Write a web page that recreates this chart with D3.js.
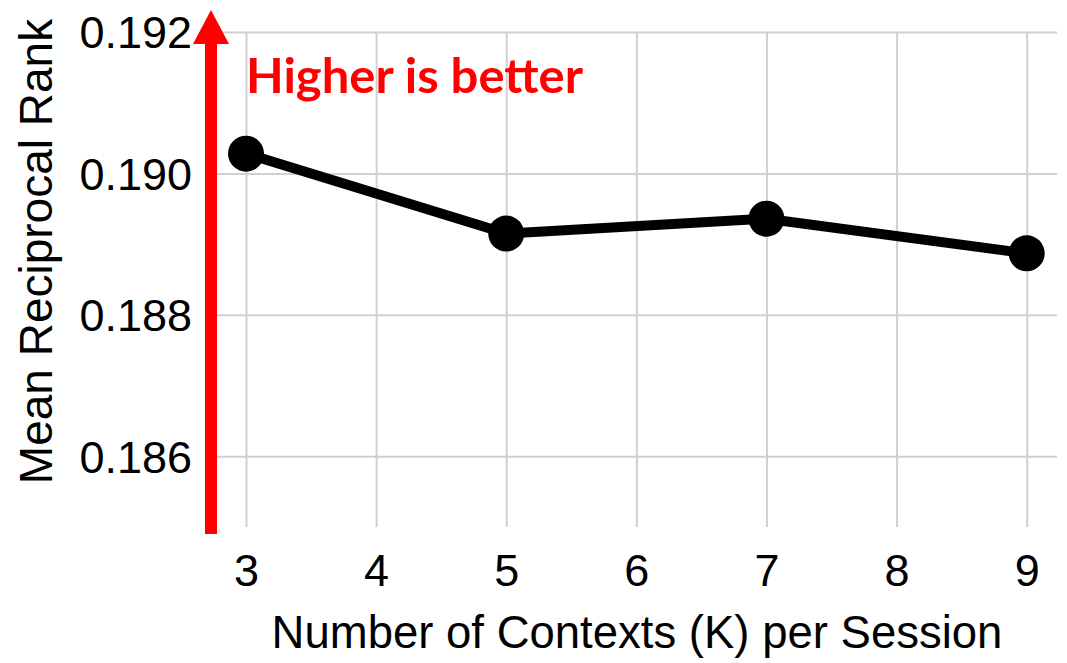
<!DOCTYPE html>
<html>
<head>
<meta charset="utf-8">
<script src="https://cdn.jsdelivr.net/npm/d3@7"></script>
<style>
  html, body { margin: 0; padding: 0; background: #fff; }
  svg { display: block; }
</style>
</head>
<body>
<script>
const contexts = [3, 5, 7, 9];
const mrr = [0.19028, 0.18915, 0.18936, 0.18887];
const xTickValues = [3, 4, 5, 6, 7, 8, 9];
const yTickValues = [0.186, 0.188, 0.190, 0.192];
const xTitle = "Number of Contexts (K) per Session";
const yTitle = "Mean Reciprocal Rank";
const annotation = "Higher is better";

const W = 1067, H = 663;
const margin = { left: 217, right: 10, top: 32, bottom: 136 };
const iw = W - margin.left - margin.right;
const ih = H - margin.top - margin.bottom;

const svg = d3.select("body").append("svg").attr("width", W).attr("height", H);
const g = svg.append("g").attr("transform", `translate(${margin.left},${margin.top})`);

const x = d3.scaleLinear().domain([2.777, 9.233]).range([0, iw]);
const y = d3.scaleLinear().domain([0.185, 0.192]).range([ih, 0]);

const font = "'Liberation Sans', Arial, sans-serif";
const grid = "#d0d0d0";

// vertical grid
const xg = g.append("g").call(d3.axisBottom(x).tickValues(xTickValues).tickSize(-ih).tickFormat(""))
  .attr("transform", `translate(0,${ih})`);
xg.select(".domain").remove();
xg.selectAll(".tick line").attr("stroke", grid).attr("stroke-width", 2);

// horizontal grid
const yg = g.append("g").call(d3.axisLeft(y).tickValues(yTickValues).tickSize(-iw).tickFormat(""));
yg.select(".domain").remove();
yg.selectAll(".tick line").attr("stroke", grid).attr("stroke-width", 2);

// y tick labels
const yl = g.append("g").attr("transform", "translate(-25,0)")
  .call(d3.axisLeft(y).tickValues(yTickValues).tickSize(0).tickPadding(0).tickFormat(d3.format(".3f")));
yl.select(".domain").remove();
yl.selectAll("text").attr("font-family", font).attr("font-size", 45).attr("fill", "#000").attr("dy", "0.355em");

// x tick labels
const xl = g.append("g").attr("transform", `translate(0,${ih})`)
  .call(d3.axisBottom(x).tickValues(xTickValues).tickSize(0).tickPadding(0).tickFormat(d3.format("d")));
xl.select(".domain").remove();
xl.selectAll("text").attr("font-family", font).attr("font-size", 45).attr("fill", "#000")
  .attr("dy", null).attr("y", 59);

// axis titles
svg.append("text").attr("x", margin.left + iw / 2).attr("y", 648)
  .attr("text-anchor", "middle").attr("font-family", font).attr("font-size", 45.5).attr("fill", "#000")
  .text(xTitle);
svg.append("text").attr("transform", "translate(52,251.5) rotate(-90)")
  .attr("text-anchor", "middle").attr("font-family", font).attr("font-size", 46).attr("fill", "#000")
  .text(yTitle);

// line + markers
const pts = contexts.map((k, i) => [k, mrr[i]]);
g.append("path").datum(pts)
  .attr("fill", "none").attr("stroke", "#000").attr("stroke-width", 10).attr("stroke-linejoin", "round")
  .attr("d", d3.line().x(d => x(d[0])).y(d => y(d[1])));
g.selectAll("circle.pt").data(pts).join("circle").attr("class", "pt")
  .attr("cx", d => x(d[0])).attr("cy", d => y(d[1])).attr("r", 18).attr("fill", "#000");

// red arrow annotation
const ax = -6, shaftW = 12, headW = 36, headTop = -22, headBase = 12, bottom = ih + 7;
g.append("path")
  .attr("fill", "#ff0000")
  .attr("d", `M${ax - shaftW/2},${bottom} L${ax - shaftW/2},${headBase} L${ax - headW/2},${headBase} L${ax},${headTop} L${ax + headW/2},${headBase} L${ax + shaftW/2},${headBase} L${ax + shaftW/2},${bottom} Z`);

svg.append("text").attr("x", 246).attr("y", 93)
  .attr("font-family", "Lato, 'Open Sans', sans-serif").attr("font-weight", 700).attr("font-size", 48)
  .attr("fill", "#ff0000")
  .attr("textLength", 337).attr("lengthAdjust", "spacingAndGlyphs")
  .text(annotation);
</script>
</body>
</html>
